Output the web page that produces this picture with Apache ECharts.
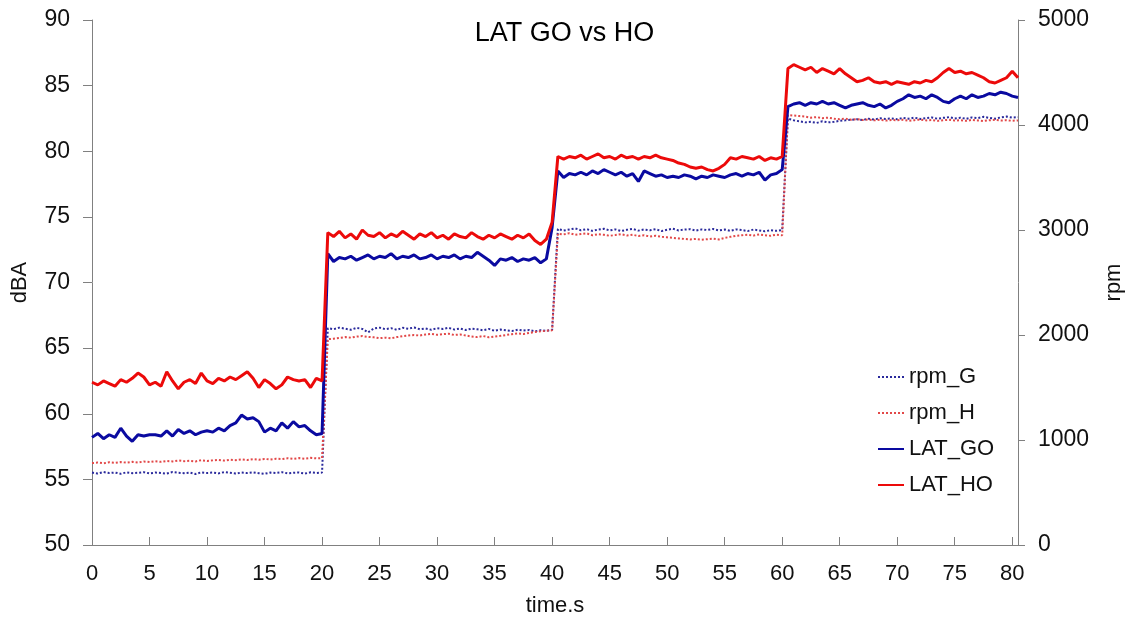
<!DOCTYPE html>
<html>

<head>
    <meta charset="utf-8">
    <script type="text/javascript" src="https://cdn.jsdelivr.net/npm/echarts@6/dist/echarts.min.js"></script>
</head>

<body style="margin:0;">
    <div id="main" style="width: 1129px;height:622px;"></div>
    <script type="text/javascript">
        // samples every 0.5 s, 0 .. 80.5 s
        var timeS = [];
        for (var i = 0; i <= 161; i++) {
            timeS.push(i * 0.5);
        }

        // dBA (0-20 / 20.5-40 / 40.5-60 / 60.5-80.5 s)
        var latHO = [
            62.4, 62.2, 62.5, 62.3, 62.1, 62.6, 62.4, 62.7, 63.1, 62.8, 62.2, 62.4, 62.1, 63.2, 62.5, 61.9, 62.4, 62.6, 62.3, 63.1,
            62.5, 62.3, 62.7, 62.5, 62.8, 62.6, 62.9, 63.2, 62.7, 62.0, 62.6, 62.3, 61.9, 62.2, 62.8, 62.6, 62.5, 62.6, 62.0, 62.7, 62.5,
            73.8, 73.5, 73.9, 73.4, 73.7, 73.3, 74.0, 73.6, 73.5, 73.8, 73.4, 73.7, 73.5, 73.9, 73.6, 73.3, 73.7, 73.5, 73.8, 73.4,
            73.6, 73.3, 73.7, 73.5, 73.4, 73.8, 73.5, 73.3, 73.6, 73.4, 73.7, 73.5, 73.3, 73.6, 73.4, 73.7, 73.2, 72.9, 73.3, 74.6,
            79.6, 79.4, 79.6, 79.5, 79.7, 79.4, 79.6, 79.8, 79.5, 79.6, 79.4, 79.7, 79.5, 79.6, 79.4, 79.6, 79.5, 79.7, 79.5, 79.4,
            79.3, 79.1, 79.0, 78.8, 78.7, 78.8, 78.6, 78.5, 78.7, 79.0, 79.5, 79.4, 79.6, 79.5, 79.4, 79.6, 79.3, 79.5, 79.4, 79.6,
            86.3, 86.6, 86.4, 86.2, 86.4, 86.0, 86.3, 86.1, 85.9, 86.3, 85.9, 85.6, 85.3, 85.4, 85.6, 85.3, 85.2, 85.3, 85.1, 85.3,
            85.2, 85.1, 85.3, 85.2, 85.4, 85.3, 85.6, 86.0, 86.3, 86.0, 86.1, 85.9, 86.0, 85.8, 85.6, 85.3, 85.2, 85.4, 85.6, 86.1, 85.6
        ];
        var latGO = [
            58.2, 58.5, 58.1, 58.4, 58.2, 58.9, 58.3, 57.9, 58.4, 58.3, 58.4, 58.4, 58.3, 58.7, 58.3, 58.8, 58.5, 58.7, 58.4, 58.6,
            58.7, 58.6, 58.9, 58.7, 59.1, 59.3, 59.9, 59.6, 59.7, 59.4, 58.6, 58.9, 58.7, 59.3, 58.9, 59.4, 59.0, 59.1, 58.7, 58.4, 58.5,
            72.2, 71.6, 71.9, 71.8, 72.0, 71.7, 71.9, 72.1, 71.8, 72.0, 71.9, 72.2, 71.8, 72.0, 71.9, 72.1, 71.8, 71.9, 72.1, 71.8,
            72.0, 71.9, 72.1, 71.8, 72.0, 71.9, 72.3, 72.0, 71.7, 71.3, 71.8, 71.7, 71.9, 71.6, 71.8, 71.7, 71.9, 71.5, 71.8, 74.2,
            78.5, 78.0, 78.3, 78.2, 78.4, 78.2, 78.5, 78.3, 78.6, 78.4, 78.2, 78.4, 78.1, 78.3, 77.7, 78.5, 78.3, 78.1, 78.2, 78.0,
            78.1, 78.0, 78.2, 78.1, 77.9, 78.1, 78.0, 78.2, 78.1, 78.0, 78.2, 78.3, 78.1, 78.3, 78.2, 78.4, 77.8, 78.2, 78.3, 78.6,
            83.4, 83.6, 83.7, 83.5, 83.7, 83.6, 83.8, 83.6, 83.7, 83.5, 83.3, 83.5, 83.6, 83.7, 83.5, 83.4, 83.6, 83.3, 83.5, 83.8,
            84.0, 84.3, 84.1, 84.2, 84.0, 84.3, 84.1, 83.8, 83.7, 84.0, 84.2, 84.0, 84.3, 84.1, 84.2, 84.4, 84.3, 84.5, 84.4, 84.2, 84.1
        ];

        // rpm
        var rpmG = [
            690, 680, 695, 685, 690, 678, 692, 684, 688, 694, 682, 690, 686, 680, 695, 688, 684, 690, 676, 692,
            686, 690, 682, 694, 688, 680, 690, 685, 692, 684, 678, 690, 686, 694, 682, 688, 690, 680, 692, 686, 690,
            2065, 2055, 2070, 2060, 2050, 2068, 2058, 2025, 2062, 2070, 2055, 2065, 2050, 2068, 2060, 2072, 2055, 2062, 2050, 2065,
            2058, 2068, 2052, 2062, 2048, 2060, 2055, 2045, 2058, 2040, 2052, 2045, 2038, 2050, 2042, 2048, 2035, 2045, 2040, 2050,
            3010, 2995, 3005, 3015, 2998, 3008, 2992, 3004, 3012, 2996, 3006, 2990, 3002, 3010, 2994, 3005, 2998, 3008, 2990, 3002,
            3012, 2996, 3004, 3008, 2994, 3006, 3000, 3010, 2996, 3004, 2992, 3006, 3000, 2990, 3004, 2996, 2988, 2998, 2992, 3000,
            4060, 4045, 4035, 4025, 4030, 4020, 4035, 4025, 4030, 4040, 4045, 4050, 4055, 4048, 4060, 4052, 4065, 4058, 4062, 4055,
            4068, 4060, 4070, 4058, 4065, 4072, 4060, 4068, 4075, 4062, 4070, 4058, 4072, 4065, 4078, 4068, 4060, 4072, 4080, 4070, 4075
        ];
        var rpmH = [
            780, 785, 778, 788, 782, 790, 784, 792, 786, 795, 790, 798, 792, 800, 796, 805, 798, 802, 796, 808,
            800, 806, 810, 804, 812, 808, 815, 810, 818, 812, 820, 814, 822, 818, 826, 820, 828, 822, 830, 825, 828,
            1960, 1965, 1972, 1980, 1975, 1985, 1990, 1982, 1978, 1970, 1975, 1968, 1980, 1988, 1995, 2000, 1995, 2005, 2010, 2002,
            2008, 2012, 2000, 2005, 1995, 1985, 1980, 1990, 1978, 1985, 1992, 2000, 2008, 2015, 2010, 2020, 2028, 2035, 2040, 2045,
            2965, 2958, 2970, 2955, 2962, 2968, 2950, 2960, 2955, 2945, 2952, 2960, 2948, 2955, 2942, 2950, 2938, 2945, 2935, 2930,
            2925, 2920, 2915, 2910, 2915, 2908, 2912, 2918, 2910, 2925, 2935, 2945, 2950, 2955, 2948, 2958, 2950, 2945, 2955, 2950,
            4095, 4090, 4085, 4080, 4070, 4075, 4065, 4070, 4060, 4055, 4060, 4050, 4055, 4048, 4052, 4045, 4050, 4042, 4048, 4045,
            4050, 4040, 4046, 4052, 4044, 4048, 4040, 4045, 4050, 4042, 4046, 4040, 4048, 4044, 4038, 4045, 4050, 4042, 4046, 4040, 4044
        ];

        function pairs(vals) {
            return vals.map(function (v, i) { return [timeS[i], v]; });
        }

        var axisGrey = '#808080';
        var font = 'Liberation Sans';

        var myChart = echarts.init(document.getElementById('main'));

        myChart.setOption({
            animation: false,
            backgroundColor: '#fff',
            textStyle: { fontFamily: font },
            title: {
                text: 'LAT GO vs HO',
                left: 'center',
                top: 15,
                textStyle: { fontSize: 27, fontWeight: 'normal', color: '#000', fontFamily: font }
            },
            grid: {
                left: 92,
                right: 111,
                top: 20,
                bottom: 77,
                outerBoundsMode: 'none',
                containLabel: false
            },
            legend: {
                orient: 'vertical',
                left: 872,
                top: 361,
                itemWidth: 26,
                itemHeight: 22,
                itemGap: 14,
                itemStyle: { opacity: 0 },
                textStyle: { fontSize: 22, color: '#111', fontFamily: font },
                data: ['rpm_G', 'rpm_H', 'LAT_GO', 'LAT_HO']
            },
            xAxis: {
                type: 'value',
                min: 0,
                max: 80.5,
                interval: 5,
                name: 'time.s',
                nameLocation: 'middle',
                nameGap: 50,
                nameTextStyle: { fontSize: 22, color: '#111' },
                axisLine: { lineStyle: { color: axisGrey } },
                axisTick: { inside: true, length: 8, lineStyle: { color: axisGrey } },
                axisLabel: {
                    fontSize: 22,
                    color: '#111',
                    margin: 18,
                    formatter: function (v) { return v % 5 === 0 ? String(v) : ''; }
                },
                splitLine: { show: false }
            },
            yAxis: [
                {
                    type: 'value',
                    min: 50,
                    max: 90,
                    interval: 5,
                    name: 'dBA',
                    nameLocation: 'middle',
                    nameRotate: 90,
                    nameGap: 61,
                    nameTextStyle: { fontSize: 22, color: '#111' },
                    axisLine: { show: true, lineStyle: { color: axisGrey } },
                    axisTick: { show: true, length: 9, lineStyle: { color: axisGrey } },
                    axisLabel: { fontSize: 23, color: '#111', margin: 22 },
                    splitLine: { show: false }
                },
                {
                    type: 'value',
                    min: 0,
                    max: 5000,
                    interval: 1000,
                    position: 'right',
                    name: 'rpm',
                    nameLocation: 'middle',
                    nameRotate: 90,
                    nameGap: 85,
                    nameTextStyle: { fontSize: 22, color: '#111' },
                    axisLine: { show: true, lineStyle: { color: axisGrey } },
                    axisTick: { show: true, length: 7, lineStyle: { color: axisGrey } },
                    axisLabel: {
                        fontSize: 23,
                        color: '#111',
                        margin: 20,
                        formatter: function (v) { return String(v); }
                    },
                    splitLine: { show: false }
                }
            ],
            series: [
                {
                    name: 'rpm_G',
                    type: 'line',
                    yAxisIndex: 1,
                    symbol: 'none',
                    color: '#2a2a9c',
                    lineStyle: { width: 2, type: 'dotted', color: '#2a2a9c' },
                    data: pairs(rpmG)
                },
                {
                    name: 'rpm_H',
                    type: 'line',
                    yAxisIndex: 1,
                    symbol: 'none',
                    color: '#e24848',
                    lineStyle: { width: 2, type: 'dotted', color: '#e24848' },
                    data: pairs(rpmH)
                },
                {
                    name: 'LAT_GO',
                    type: 'line',
                    yAxisIndex: 0,
                    symbol: 'none',
                    color: '#0a0aa0',
                    lineStyle: { width: 3, color: '#0a0aa0' },
                    data: pairs(latGO)
                },
                {
                    name: 'LAT_HO',
                    type: 'line',
                    yAxisIndex: 0,
                    symbol: 'none',
                    color: '#ec0a0a',
                    lineStyle: { width: 3, color: '#ec0a0a' },
                    data: pairs(latHO)
                }
            ]
        });
    </script>
</body>

</html>
